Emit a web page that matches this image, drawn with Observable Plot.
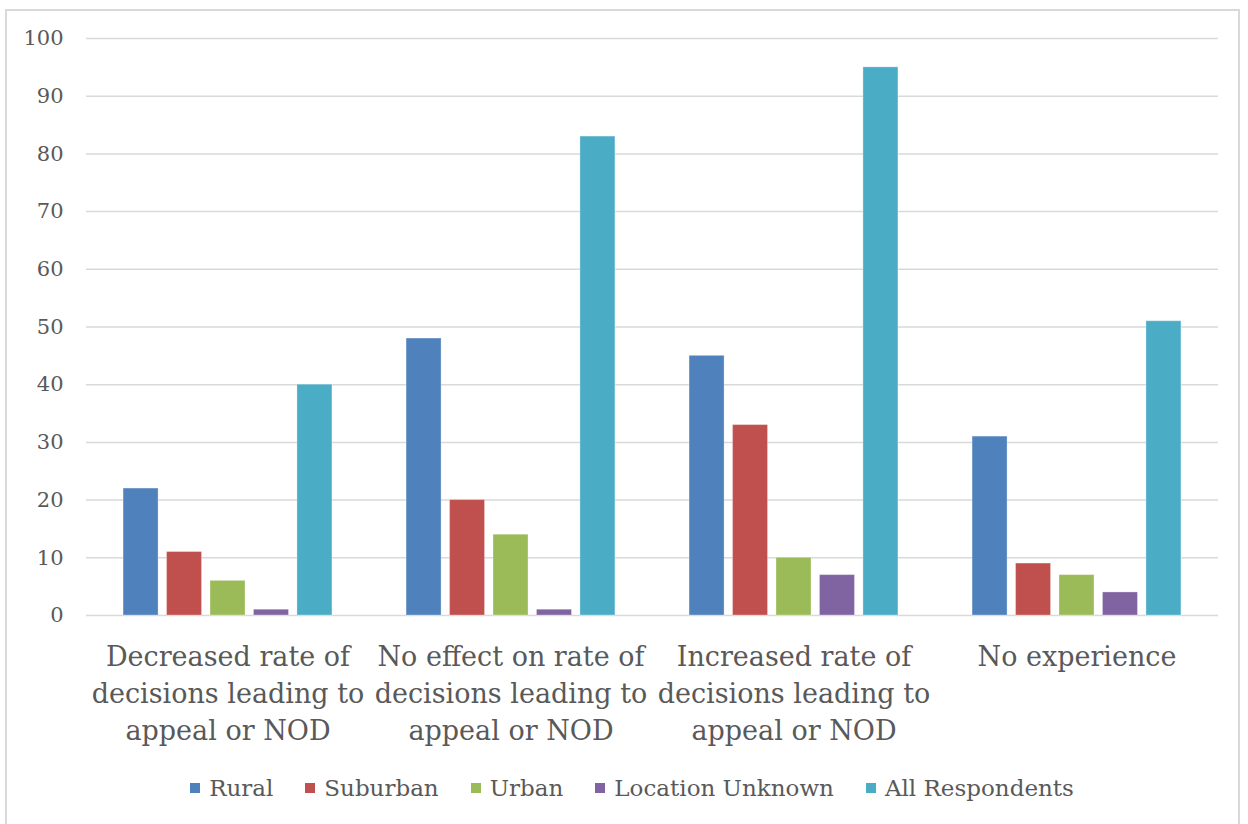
<!DOCTYPE html>
<html>
<head>
<meta charset="utf-8">
<script src="https://cdn.jsdelivr.net/npm/d3@7"></script>
<script src="https://cdn.jsdelivr.net/npm/@observablehq/plot@0.6"></script>
<style>
  html, body { margin: 0; padding: 0; background: #fff; width: 1248px; height: 824px; overflow: hidden; }
  #frame { position: absolute; left: 5px; top: 9px; width: 1235px; height: 830px; border: 2px solid #d9d9d9; box-sizing: border-box; }
  #chart { position: absolute; left: 0; top: 0; }
  #legend { position: absolute; left: 8px; top: 775px; width: 1248px; display: flex; justify-content: center; font-family: "DejaVu Serif", serif; font-size: 23px; color: #595959; }
  .item { display: flex; align-items: center; margin: 0 16px; }
  .sw { width: 10px; height: 10px; margin-right: 9px; }
</style>
</head>
<body>
<div id="frame"></div>
<div id="chart"></div>
<div id="legend"></div>
<script>
// Response categories and their wrapped axis labels
const categories = [
  "Decreased rate of decisions leading to appeal or NOD",
  "No effect on rate of decisions leading to appeal or NOD",
  "Increased rate of decisions leading to appeal or NOD",
  "No experience"
];
const tickLabels = [
  "Decreased rate of\ndecisions leading to\nappeal or NOD",
  "No effect on rate of\ndecisions leading to\nappeal or NOD",
  "Increased rate of\ndecisions leading to\nappeal or NOD",
  "No experience"
];

// Respondent groups and their colours
const series = ["Rural", "Suburban", "Urban", "Location Unknown", "All Respondents"];
const colors = ["#4F81BD", "#C0504D", "#9BBB59", "#8064A2", "#4BACC6"];

// Counts per category, one array per group
const rural = [22, 48, 45, 31];
const suburban = [11, 20, 33, 9];
const urban = [6, 14, 10, 7];
const locationUnknown = [1, 1, 7, 4];
const allRespondents = [40, 83, 95, 51];

const yTicks = [0, 10, 20, 30, 40, 50, 60, 70, 80, 90, 100];

const valuesBySeries = [rural, suburban, urban, locationUnknown, allRespondents];
const rows = [];
categories.forEach((c, i) => {
  series.forEach((s, j) => rows.push({category: c, group: s, value: valuesBySeries[j][i]}));
});

const grid = "#d9d9d9";
const chart = Plot.plot({
  width: 1248,
  height: 770,
  marginTop: 38,
  marginLeft: 85,
  marginRight: 30,
  marginBottom: 155,
  style: {fontFamily: "DejaVu Serif, serif", color: "#595959", background: "transparent"},
  fx: {domain: categories, padding: 0},
  x: {domain: series, paddingInner: 0.195, paddingOuter: 0.853, round: false, axis: null},
  y: {domain: [0, 100]},
  color: {domain: series, range: colors},
  marks: [
    Plot.gridY(yTicks, {stroke: grid, strokeOpacity: 1, strokeWidth: 1.5}),
    Plot.barY(rows, {fx: "category", x: "group", y: "value", fill: "group",
      stroke: "white", strokeOpacity: 0.3, strokeWidth: 1}),
    Plot.axisY(yTicks, {tickSize: 0, tickPadding: 23, fontSize: 21, label: null, tickFormat: d => String(d)}),
    Plot.axisFx({anchor: "bottom", tickSize: 0, tickPadding: 24, fontSize: 27, lineHeight: 1.37, label: null,
      tickFormat: d => tickLabels[categories.indexOf(d)]})
  ]
});
document.getElementById("chart").appendChild(chart);

// Legend row below the chart
const legend = d3.select("#legend");
series.forEach((s, i) => {
  const item = legend.append("div").attr("class", "item");
  item.append("div").attr("class", "sw").style("background", colors[i]);
  item.append("span").text(s);
});
</script>
</body>
</html>
